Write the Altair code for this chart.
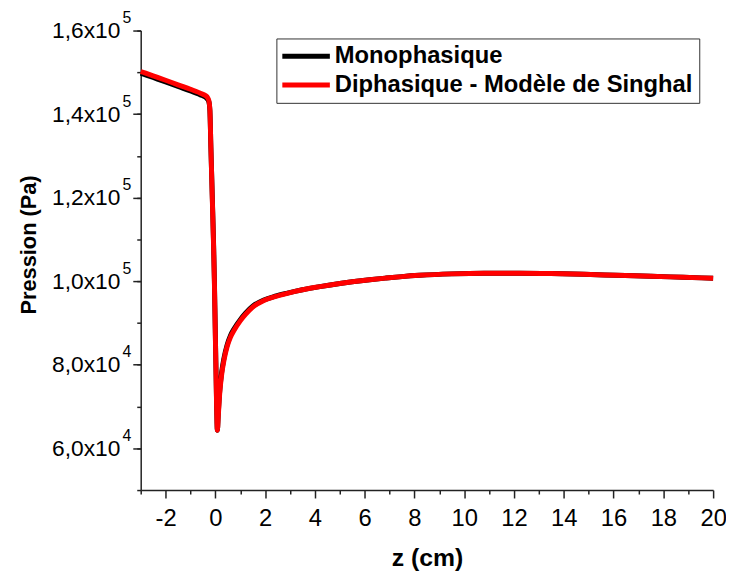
import altair as alt
import pandas as pd

series = ["Monophasique", "Diphasique - Modèle de Singhal"]
colors = ["#000000", "#ff0000"]

# Diphasique - Modèle de Singhal (red)
z_red = [-3.0, -2.5, -2.0, -1.5, -1.0, -0.6, -0.4, -0.32, -0.26, -0.22, -0.18,
         -0.12, -0.07, -0.04, -0.01, 0.02, 0.05, 0.08, 0.12, 0.18, 0.25, 0.35,
         0.47, 0.6, 0.76, 1.0, 1.22, 1.5, 1.95, 2.4, 2.89, 3.5, 4.2, 5.0, 5.5,
         6.2, 6.86, 7.5, 8.2, 9.5, 10.8, 12.2, 13.5, 14.8, 16.1, 17.5, 18.8, 20.0]
p_red = [150200, 149150, 148100, 147000, 145950, 145000, 144450, 144000, 143200, 141000, 132000,
         119000, 108000, 100000, 90000, 80000, 70000, 64300, 68000, 73500, 77500, 81200,
         84300, 86500, 88300, 90500, 92100, 93800, 95400, 96300, 97100, 97950, 98700, 99450, 99850,
         100350, 100750, 101100, 101400, 101750, 101900, 101900, 101820, 101650, 101410, 101170, 100940, 100700]

# Monophasique (black)
z_black = [-3.0, -2.5, -2.0, -1.5, -1.0, -0.6, -0.4, -0.32, -0.26, -0.22, -0.18,
           -0.12, -0.07, -0.04, -0.01, 0.02, 0.05, 0.08, 0.12, 0.18, 0.25, 0.35,
           0.47, 0.6, 0.76, 1.0, 1.22, 1.5, 1.95, 2.4, 2.89, 3.5, 4.2, 5.0, 5.5,
           6.2, 6.86, 7.5, 8.2, 9.5, 10.8, 12.2, 13.5, 14.8, 16.1, 17.5, 18.8, 20.0]
p_black = [149800, 148750, 147700, 146600, 145550, 144600, 144050, 143600, 142900, 140800, 132000,
           119500, 108500, 100500, 90500, 80500, 70500, 64300, 68600, 74100, 78100, 81700,
           84700, 86900, 88700, 90800, 92400, 94000, 95500, 96400, 97150, 97950, 98700, 99450, 99850,
           100350, 100750, 101100, 101400, 101750, 101900, 101900, 101820, 101650, 101410, 101170, 100940, 100700]

x_major = [-2, 0, 2, 4, 6, 8, 10, 12, 14, 16, 18, 20]
x_minor = [-3, -1, 1, 3, 5, 7, 9, 11, 13, 15, 17, 19]
y_major = [60000, 80000, 100000, 120000, 140000, 160000]
y_all = [50000, 60000, 70000, 80000, 90000, 100000, 110000, 120000, 130000, 140000, 150000, 160000]

df_black = pd.DataFrame({"z": z_black, "p": p_black, "serie": series[0]})
df_red = pd.DataFrame({"z": z_red, "p": p_red, "serie": series[1]})

FONT = "Liberation Sans"
AX = "#222222"

xs = alt.Scale(domain=[-3, 20], nice=False, zero=False)
ys = alt.Scale(domain=[50000, 160000], nice=False, zero=False)

color = alt.Color(
    "serie:N",
    scale=alt.Scale(domain=series, range=colors),
    legend=alt.Legend(
        title=None, orient="none", legendX=137, legendY=8, direction="vertical",
        symbolType="M-4,0H4", symbolSize=144, symbolStrokeWidth=5, symbolOffset=12,
        labelFont=FONT, labelFontSize=24, labelFontWeight="bold", labelColor="black",
        labelLimit=600, labelOffset=17, rowPadding=5, padding=6,
        strokeColor="#333333", fillColor="white",
    ),
)

# mantissa part of the tick labels; the power-of-ten exponent is drawn as a raised label
y_label_expr = (
    "datum.value >= 100000 ? replace(format(datum.value/100000, '.1f'), '.', ',') + 'x10'"
    " : replace(format(datum.value/10000, '.1f'), '.', ',') + 'x10'"
)
y_exp_expr = "(datum.value % 20000 == 0) ? (datum.value >= 100000 ? '5' : '4') : ''"

x_axis_major = alt.Axis(values=x_major, tickSize=8, labelPadding=9, labelExpr="'' + datum.value",
                        labelFlush=False, labelOverlap=False,
                        title="z (cm)", titleBaseline="alphabetic", titleY=76, orient="bottom",
                        grid=False, domainColor=AX, tickColor=AX, domainWidth=1.5, tickWidth=1.5,
                        labelFont=FONT, labelFontSize=24, labelColor="black",
                        titleFont=FONT, titleFontSize=25, titleFontWeight="bold", titleColor="black")
y_axis_major = alt.Axis(values=y_major, tickSize=8, labelPadding=13, labelExpr=y_label_expr,
                        labelFlush=False, labelOverlap=False,
                        title="Pression (Pa)", titleX=-106, titleY=216, titleAngle=270,
                        titleBaseline="alphabetic", titleAlign="center", orient="left",
                        grid=False, domainColor=AX, tickColor=AX, domainWidth=1.5, tickWidth=1.5,
                        labelFont=FONT, labelFontSize=23, labelColor="black",
                        titleFont=FONT, titleFontSize=22, titleFontWeight="bold", titleColor="black")
x_axis_minor = alt.Axis(values=x_minor, tickSize=4, labels=False, domain=False, title=None,
                        orient="bottom", grid=False, tickColor=AX, tickWidth=1.5)
y_axis_minor = alt.Axis(values=y_all, tickSize=4, labelExpr=y_exp_expr, labelPadding=6,
                        labelOffset=-13, labelFlush=False, labelOverlap=False,
                        labelFont=FONT, labelFontSize=16, labelColor="black",
                        domain=False, title=None,
                        orient="left", grid=False, tickColor=AX, tickWidth=1.5)

black = alt.Chart(df_black).mark_line(strokeWidth=5, interpolate="monotone", strokeJoin="round").encode(
    x=alt.X("z:Q", scale=xs, axis=x_axis_major),
    y=alt.Y("p:Q", scale=ys, axis=y_axis_major),
    color=color,
)
red = alt.Chart(df_red).mark_line(strokeWidth=5, interpolate="monotone", strokeJoin="round").encode(
    x=alt.X("z:Q", scale=xs, axis=x_axis_minor),
    y=alt.Y("p:Q", scale=ys, axis=y_axis_minor),
    color=color,
)

chart = (
    alt.layer(black, red)
    .resolve_axis(x="independent", y="independent")
    .properties(width=578, height=464,
                padding={"left": 134, "top": 20, "right": 13, "bottom": 82},
                autosize=alt.AutoSizeParams(type="none"))
    .configure_view(stroke=None)
)

chart.save("out.html", embed_options={"renderer": "svg", "actions": False})
